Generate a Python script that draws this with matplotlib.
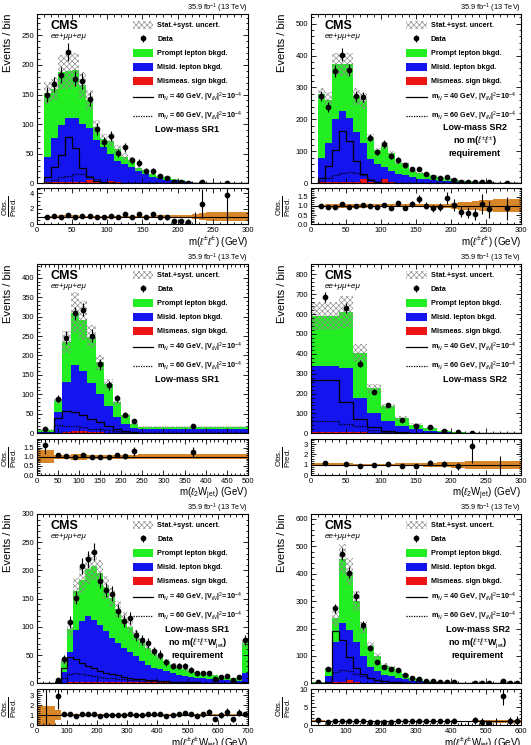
import numpy as np
import matplotlib
matplotlib.use("Agg")
import matplotlib.pyplot as plt
from matplotlib.patches import Patch
from matplotlib.lines import Line2D
from matplotlib.ticker import MultipleLocator

plt.rcParams['font.family'] = ['Liberation Sans', 'DejaVu Sans']
plt.rcParams['mathtext.fontset'] = 'custom'
plt.rcParams['mathtext.rm'] = 'Liberation Sans'
plt.rcParams['mathtext.it'] = 'Liberation Sans:italic'
plt.rcParams['mathtext.bf'] = 'Liberation Sans:bold'
plt.rcParams['hatch.linewidth'] = 0.45
plt.rcParams['hatch.color'] = '#8a8a8a'

# --- panel 1: low-mass SR1, m(ll)
p1_edges = [10, 20, 30, 40, 50, 60, 70, 80, 90, 100, 110, 120, 130, 140, 150, 160, 170, 180, 190, 200, 210, 220, 230, 240, 300]
p1_data = [150, 167, 183, 222, 177, 173, 142, 92, 70, 80, 51, 61, 39, 35, 21, 21, 12, 9, 3, 2, 1, 0, 2, 1]
p1_total = [153, 160, 188, 190, 192, 166, 140, 95, 75, 72, 58, 45, 40, 26, 22, 16, 13, 10, 7, 5, 3, 1.2, 0.75, 0.26]
p1_misid = [43, 74, 96, 109, 108, 99, 87, 71, 60, 46, 37, 32, 27, 19, 15, 10, 8, 6, 4.5, 3, 2, 0.8, 0.4, 0.15]
p1_mismeas = [1.5, 2, 2, 2, 2, 2, 6, 1.5, 1.5, 4, 1.5, 1, 1, 1, 0.8, 0.6, 0.5, 0.4, 0.3, 0.2, 0.1, 0.1, 0.05, 0.02]
p1_unc = [0.12, 0.12, 0.15, 0.16, 0.15, 0.13, 0.12, 0.12, 0.12, 0.12, 0.12, 0.12, 0.12, 0.12, 0.12, 0.13, 0.14, 0.15, 0.15, 0.17, 0.2, 0.35, 0.4, 0.55]
p1_sig40 = [11, 27, 48, 78, 59, 26, 11, 4, 2, 1, 0.5, 0.3, 0.2, 0.1, 0, 0, 0, 0, 0, 0, 0, 0, 0, 0]
p1_sig60 = [3, 6, 10, 13, 15, 15, 12, 7, 3, 1.5, 0.8, 0.5, 0.3, 0.2, 0.1, 0, 0, 0, 0, 0, 0, 0, 0, 0]

# --- panel 2: low-mass SR2, m(ll), no m(ll) requirement
p2_edges = [10, 20, 30, 40, 50, 60, 70, 80, 90, 100, 110, 120, 130, 140, 150, 160, 170, 180, 190, 200, 210, 220, 230, 240, 250, 260, 300]
p2_data = [273, 240, 353, 403, 355, 272, 270, 143, 97, 123, 84, 73, 57, 44, 45, 30, 20, 17, 20, 11, 5, 4, 3, 4, 3, 2]
p2_total = [280, 262, 372, 372, 372, 272, 258, 143, 103, 117, 95, 64, 63, 40, 33, 30, 23, 18.5, 14, 10.5, 7.5, 6.3, 5.5, 3.7, 3.7, 2.3]
p2_misid = [77, 122, 197, 222, 202, 157, 110, 72, 57, 38, 37, 28, 23, 18, 14, 11, 8.5, 6.5, 5.5, 3.8, 2.8, 2.3, 1.8, 1.4, 1.1, 0.7]
p2_mismeas = [3, 3, 3, 3, 3, 3, 15, 3, 3, 12, 3, 2, 2, 2, 1, 1, 0.5, 0.5, 0.5, 0.2, 0.2, 0.2, 0.2, 0.1, 0.1, 0.1]
p2_unc = [0.07, 0.09, 0.1, 0.1, 0.1, 0.1, 0.1, 0.08, 0.08, 0.08, 0.08, 0.08, 0.08, 0.08, 0.08, 0.09, 0.1, 0.1, 0.12, 0.15, 0.2, 0.22, 0.25, 0.3, 0.3, 0.35]
p2_sig40 = [18, 54, 104, 164, 133, 70, 30, 10, 3, 1, 0.5, 0.3, 0.2, 0, 0, 0, 0, 0, 0, 0, 0, 0, 0, 0, 0, 0]
p2_sig60 = [8, 16, 26, 32, 34, 32, 26, 13, 5, 2, 1, 0.5, 0.3, 0.1, 0, 0, 0, 0, 0, 0, 0, 0, 0, 0, 0, 0]

# --- panel 3: low-mass SR1, m(l2 Wjet)
p3_edges = [0, 40, 60, 80, 100, 120, 140, 160, 180, 200, 220, 240, 500]
p3_data = [12, 89, 246, 308, 318, 251, 177, 123, 90, 48, 31, 20]
p3_total = [7.3, 83, 234, 310, 290, 248, 182, 127, 81, 47, 24, 16]
p3_misid = [4, 53, 128, 170, 155, 126, 97, 68, 41, 24, 13.5, 9.5]
p3_mismeas = [0.3, 2, 4, 5, 5, 4, 3, 2, 1, 1, 0.5, 0.5]
p3_unc = [0.35, 0.1, 0.12, 0.17, 0.17, 0.12, 0.1, 0.1, 0.1, 0.1, 0.1, 0.15]
p3_sig40 = [0, 40, 58, 56, 47, 38, 28, 20, 12, 6, 3, 0.3]
p3_sig60 = [0, 22, 20, 18, 15, 12, 10, 8, 6, 4, 2, 0.3]

# --- panel 4: low-mass SR2, m(l2 Wjet)
p4_edges = [0, 40, 60, 80, 100, 120, 140, 160, 180, 200, 220, 240, 300]
p4_data = [685, 630, 350, 210, 142, 65, 38, 30, 13, 5, 3, 0]
p4_total = [590, 610, 405, 226, 135, 77, 43, 25, 12, 6, 1.05, 1.0]
p4_misid = [332, 322, 173, 97, 60, 37, 21.5, 11.7, 5.8, 2.9, 0.9, 0.4]
p4_mismeas = [8, 8, 5, 3, 2, 1, 0.5, 0.3, 0.2, 0.1, 0.05, 0.05]
p4_unc = [0.12, 0.13, 0.11, 0.1, 0.08, 0.12, 0.15, 0.2, 0.22, 0.3, 0.4, 0.4]
p4_sig40 = [268, 156, 72, 30, 13, 5, 2, 1, 0.3, 0, 0, 0]
p4_sig60 = [64, 47, 35, 18, 8, 3, 1, 0.5, 0, 0, 0, 0]

# --- panel 5: low-mass SR1, m(ll Wjet), no requirement
p5_edges = [0, 60, 80, 100, 120, 140, 160, 180, 200, 220, 240, 260, 280, 300, 320, 340, 360, 380, 400,
            420, 440, 460, 480, 500, 520, 540, 560, 580, 600, 620, 640, 660, 680, 700]
p5_data = [0, 5, 43, 108, 152, 208, 220, 233, 182, 165, 159, 129, 111, 115, 85, 76, 71, 57, 51, 37,
           31, 30, 30, 24, 18, 18, 18, 8, 12, 13, 5, 11, 77]
p5_total = [0.5, 1.7, 38, 97, 163, 183, 203, 208, 195, 170, 152, 132, 114, 100, 86, 73, 63, 53, 46, 39,
            32, 28, 25, 22, 19, 17, 14, 14, 12, 10, 9, 9, 72]
p5_misid = [0.3, 1, 19, 53, 92, 107, 116, 109, 100, 89, 77, 69, 60, 53, 46, 38, 31, 26, 23, 20,
            16.5, 14, 12, 11, 9, 8, 7, 6.5, 5.5, 4.5, 3.8, 3.8, 16]
p5_mismeas = [0, 0.1, 1, 2, 3, 3, 3, 3, 3, 3, 3, 2.5, 2.5, 2, 2, 2, 2, 1.5, 1.5, 1.5,
              1.2, 1.2, 1, 1, 1, 1, 0.8, 0.8, 0.7, 0.6, 0.5, 0.5, 1.5]
p5_unc = [0.95, 0.5, 0.14, 0.14, 0.14, 0.13, 0.13, 0.12, 0.12, 0.12, 0.11, 0.11, 0.11, 0.1, 0.1, 0.1, 0.1,
          0.1, 0.1, 0.1, 0.1, 0.1, 0.1, 0.1, 0.1, 0.1, 0.1, 0.1, 0.1, 0.1, 0.1, 0.1, 0.1]
p5_sig40 = [0, 2, 27, 47, 43, 36, 30, 27, 22, 19, 16, 14, 12, 10, 8, 7, 6, 5, 4, 3.5,
            3, 2.5, 2, 1.8, 1.5, 1.2, 1, 0.9, 0.8, 0.7, 0.6, 0.5, 1.5]
p5_sig60 = [0, 1, 10, 17, 18, 17, 15, 13, 11, 10, 9, 8, 7, 6, 5, 4.5, 4, 3.5, 3, 2.5,
            2, 1.8, 1.5, 1.3, 1.1, 1, 0.9, 0.8, 0.7, 0.6, 0.5, 0.5, 1]

# --- panel 6: low-mass SR2, m(ll Wjet), no requirement
p6_edges = [0, 40, 60, 80, 100, 120, 140, 160, 180, 200, 220, 240, 260, 280, 300, 320, 340, 360, 380,
            400, 420, 440, 460, 480, 500, 520, 540, 560, 580, 600]
p6_data = [4, 52, 274, 471, 404, 319, 213, 130, 78, 58, 52, 47, 32, 21, 16, 10, 7, 5, 4, 3,
           0, 0, 2, 1, 1, 0, 9, 1, 1]
p6_total = [3, 55, 237, 453, 408, 300, 205, 137, 100, 68, 58, 45, 30, 20, 15, 10, 7, 5, 3.5, 2.5,
            2, 1.6, 1.5, 1.1, 1.6, 1.0, 1.1, 0.9, 0.8]
p6_misid = [1, 24, 147, 216, 184, 146, 98, 59, 44, 31, 24, 19, 14.5, 9.8, 6.8, 4.8, 3.3, 2.4, 1.7, 1.2,
            1, 0.8, 0.7, 0.5, 0.7, 0.4, 0.5, 0.4, 0.3]
p6_mismeas = [0.1, 1, 3, 4, 11, 4, 2, 1, 1, 1, 1, 1, 0.5, 0.3, 0.2, 0.2, 0.2, 0.1, 0.1, 0.1,
              0.05, 0.05, 0.05, 0.05, 0.05, 0.05, 0.05, 0.05, 0.05]
p6_unc = [0.3, 0.1, 0.12, 0.12, 0.12, 0.12, 0.1, 0.1, 0.1, 0.1, 0.1, 0.1, 0.1, 0.1, 0.12, 0.12, 0.15, 0.15,
          0.2, 0.2, 0.25, 0.25, 0.3, 0.3, 0.3, 0.35, 0.4, 0.5, 0.5]
p6_sig40 = [0, 5, 192, 158, 95, 56, 34, 20, 12, 7, 4, 3, 2, 1, 0.5, 0.3, 0.2, 0.1, 0, 0,
            0, 0, 0, 0, 0, 0, 0, 0, 0]
p6_sig60 = [0, 2, 40, 50, 45, 35, 25, 18, 13, 9, 6, 4, 3, 2, 1.5, 1, 0.7, 0.5, 0.3, 0.2,
            0.1, 0, 0, 0, 0, 0, 0, 0, 0]

xl_ll = r'm($\ell^{\pm}\ell^{\pm}$) (GeV)'
xl_lw = r'm($\ell_{2}$W$_{\mathrm{jet}}$) (GeV)'
xl_llw = r'm($\ell^{\pm}\ell^{\pm}$W$_{\mathrm{jet}}$) (GeV)'

panels = [
    dict(edges=p1_edges, data=p1_data, total=p1_total, misid=p1_misid, mismeas=p1_mismeas, unc=p1_unc,
         s40=p1_sig40, s60=p1_sig60, xmax=300, ymax=286, ytk=(50, 10), xtk=(50, 10), rmax=4.65, rtk=(2, 0.5),
         xlabel=xl_ll, region='Low-mass SR1', rpos=(0.71, 0.315)),
    dict(edges=p2_edges, data=p2_data, total=p2_total, misid=p2_misid, mismeas=p2_mismeas, unc=p2_unc,
         s40=p2_sig40, s60=p2_sig60, xmax=300, ymax=530, ytk=(100, 20), xtk=(50, 10), rmax=1.95, rtk=(0.5, 0.1),
         xlabel=xl_ll, region='Low-mass SR2\nno m($\\ell^{\\pm}\\ell^{\\pm}$)\nrequirement', rpos=(0.78, 0.25)),
    dict(edges=p3_edges, data=p3_data, total=p3_total, misid=p3_misid, mismeas=p3_mismeas, unc=p3_unc,
         s40=p3_sig40, s60=p3_sig60, xmax=500, ymax=435, ytk=(50, 10), xtk=(50, 10), rmax=1.97, rtk=(0.5, 0.1),
         xlabel=xl_lw, region='Low-mass SR1', rpos=(0.71, 0.315)),
    dict(edges=p4_edges, data=p4_data, total=p4_total, misid=p4_misid, mismeas=p4_mismeas, unc=p4_unc,
         s40=p4_sig40, s60=p4_sig60, xmax=300, ymax=852, ytk=(100, 20), xtk=(50, 10), rmax=3.5, rtk=(1, 0.2),
         xlabel=xl_lw, region='Low-mass SR2', rpos=(0.78, 0.315)),
    dict(edges=p5_edges, data=p5_data, total=p5_total, misid=p5_misid, mismeas=p5_mismeas, unc=p5_unc,
         s40=p5_sig40, s60=p5_sig60, xmax=700, ymax=300, ytk=(50, 10), xtk=(100, 20), rmax=3.6, rtk=(1, 0.2),
         xlabel=xl_llw, region='Low-mass SR1\nno m($\\ell^{\\pm}\\ell^{\\pm}$W$_{\\mathrm{jet}}$)\nrequirement',
         rpos=(0.76, 0.24)),
    dict(edges=p6_edges, data=p6_data, total=p6_total, misid=p6_misid, mismeas=p6_mismeas, unc=p6_unc,
         s40=p6_sig40, s60=p6_sig60, xmax=600, ymax=618, ytk=(100, 20), xtk=(100, 20), rmax=10, rtk=(5, 1),
         xlabel=xl_llw, region='Low-mass SR2\nno m($\\ell^{\\pm}\\ell^{\\pm}$W$_{\\mathrm{jet}}$)\nrequirement',
         rpos=(0.795, 0.24)),
]

GREEN = '#22ee22'
BLUE = '#1414ee'
RED = '#ee1414'
ORANGE = '#d8862a'
HATCH = '#8a8a8a'

W, H = 531, 745
fig = plt.figure(figsize=(W / 100, H / 100), dpi=100)

cols = [(36.7, 248.0), (310.7, 521.0)]
rows = [(14, 183.3, 188.3, 224.3), (264, 433.3, 439, 475), (514, 683.3, 689, 725)]


def px_axes(x0, x1, y0, y1):
    return fig.add_axes([x0 / W, 1 - y1 / H, (x1 - x0) / W, (y1 - y0) / H])


def style(a, xtk, ytk):
    a.xaxis.set_major_locator(MultipleLocator(xtk[0]))
    a.xaxis.set_minor_locator(MultipleLocator(xtk[1]))
    a.yaxis.set_major_locator(MultipleLocator(ytk[0]))
    a.yaxis.set_minor_locator(MultipleLocator(ytk[1]))
    a.tick_params(which='both', direction='in', top=True, right=True, labelsize=5.5, width=0.6, pad=2)
    a.tick_params(which='major', length=3.5)
    a.tick_params(which='minor', length=1.8)
    for s in a.spines.values():
        s.set_linewidth(0.8)


lab40 = r'm$_{N}$ = 40 GeV, |V$_{\ell N}$|$^{2}$=10$^{-4}$'
lab60 = r'm$_{N}$ = 60 GeV, |V$_{\ell N}$|$^{2}$=10$^{-4}$'

for i, p in enumerate(panels):
    c = cols[i % 2]
    r = rows[i // 2]
    ax = px_axes(c[0], c[1], r[0], r[1])
    axr = px_axes(c[0], c[1], r[2], r[3])

    edges = np.array(p['edges'], float)
    data = np.array(p['data'], float)
    total = np.array(p['total'], float)
    misid = np.array(p['misid'], float)
    mismeas = np.array(p['mismeas'], float)
    unc = np.array(p['unc'], float)
    centers = 0.5 * (edges[:-1] + edges[1:])

    ax.stairs(total, edges, fill=True, facecolor=GREEN, edgecolor='none', lw=0)
    ax.stairs(misid + mismeas, edges, fill=True, facecolor=BLUE, edgecolor='none', lw=0)
    ax.stairs(mismeas, edges, fill=True, facecolor=RED, edgecolor='none', lw=0)
    ax.stairs(total * (1 + unc), edges, baseline=total * (1 - unc), fill=True,
              facecolor='none', edgecolor=HATCH, hatch='xxxxxx', lw=0)
    ax.stairs(p['s40'], edges, color='k', lw=0.9)
    ax.stairs(p['s60'], edges, color='k', lw=0.9, ls=(0, (1, 1)))

    m = data > 0
    eb = ax.errorbar(centers[m], data[m], yerr=np.sqrt(data[m]), fmt='o', color='k',
                     ms=3.1, elinewidth=0.8, capsize=0)

    ax.set_xlim(0, p['xmax'])
    ax.set_ylim(0, p['ymax'])
    style(ax, p['xtk'], p['ytk'])
    ax.tick_params(labelbottom=False)
    ax.set_ylabel('Events / bin', loc='top', fontsize=8)
    ax.yaxis.set_label_coords(-0.112, 1.0)

    ax.text(0.066, 0.962, 'CMS', transform=ax.transAxes, fontsize=9, fontweight='bold', va='top', ha='left')
    ax.text(0.066, 0.885, 'ee+μμ+eμ', transform=ax.transAxes, fontsize=5.8, style='italic', va='top', ha='left')
    ax.text(1.0, 1.022, r'35.9 fb$^{-1}$ (13 TeV)', transform=ax.transAxes, fontsize=5.3,
            ha='right', va='baseline')
    ax.text(p['rpos'][0], p['rpos'][1], p['region'], transform=ax.transAxes, fontsize=6.5,
            fontweight='bold', ha='center', va='center', linespacing=1.2)

    handles = [Patch(facecolor='white', edgecolor=HATCH, hatch='xxxxxx', lw=0), eb,
               Patch(facecolor=GREEN, lw=0), Patch(facecolor=BLUE, lw=0), Patch(facecolor=RED, lw=0),
               Line2D([], [], color='k', lw=0.9), Line2D([], [], color='k', lw=0.9, ls=(0, (1, 1)))]
    labels = ['Stat.+syst. uncert.', 'Data', 'Prompt lepton bkgd.', 'Misid. lepton bkgd.',
              'Mismeas. sign bkgd.', lab40, lab60]
    ax.legend(handles, labels, loc='upper left', bbox_to_anchor=(0.455, 0.958), frameon=False,
              prop=dict(weight='bold', size=5.2), handlelength=2.8, handleheight=1.3,
              handletextpad=0.55, labelspacing=0.78, borderpad=0, borderaxespad=0)

    # ratio panel
    axr.stairs(1 + unc, edges, baseline=1 - unc, fill=True, facecolor=ORANGE, edgecolor='none', lw=0)
    axr.axhline(1, color='k', lw=0.8)
    ratio = data[m] / total[m]
    axr.errorbar(centers[m], ratio, yerr=np.sqrt(data[m]) / total[m], fmt='o', color='k',
                 ms=3.1, elinewidth=0.8, capsize=0)
    z = ~m
    if z.any():
        axr.vlines(centers[z], 0, 1.84 / total[z], color='k', lw=0.8)
    axr.set_xlim(0, p['xmax'])
    axr.set_ylim(0, p['rmax'])
    style(axr, p['xtk'], p['rtk'])
    axr.set_xlabel(p['xlabel'], loc='right', fontsize=7, labelpad=0.5)
    axr.set_ylabel(r'$\frac{\mathrm{Obs.}}{\mathrm{Pred.}}$', fontsize=8)
    axr.yaxis.set_label_coords(-0.085, 0.5)

fig.savefig('out.png', dpi=100)
